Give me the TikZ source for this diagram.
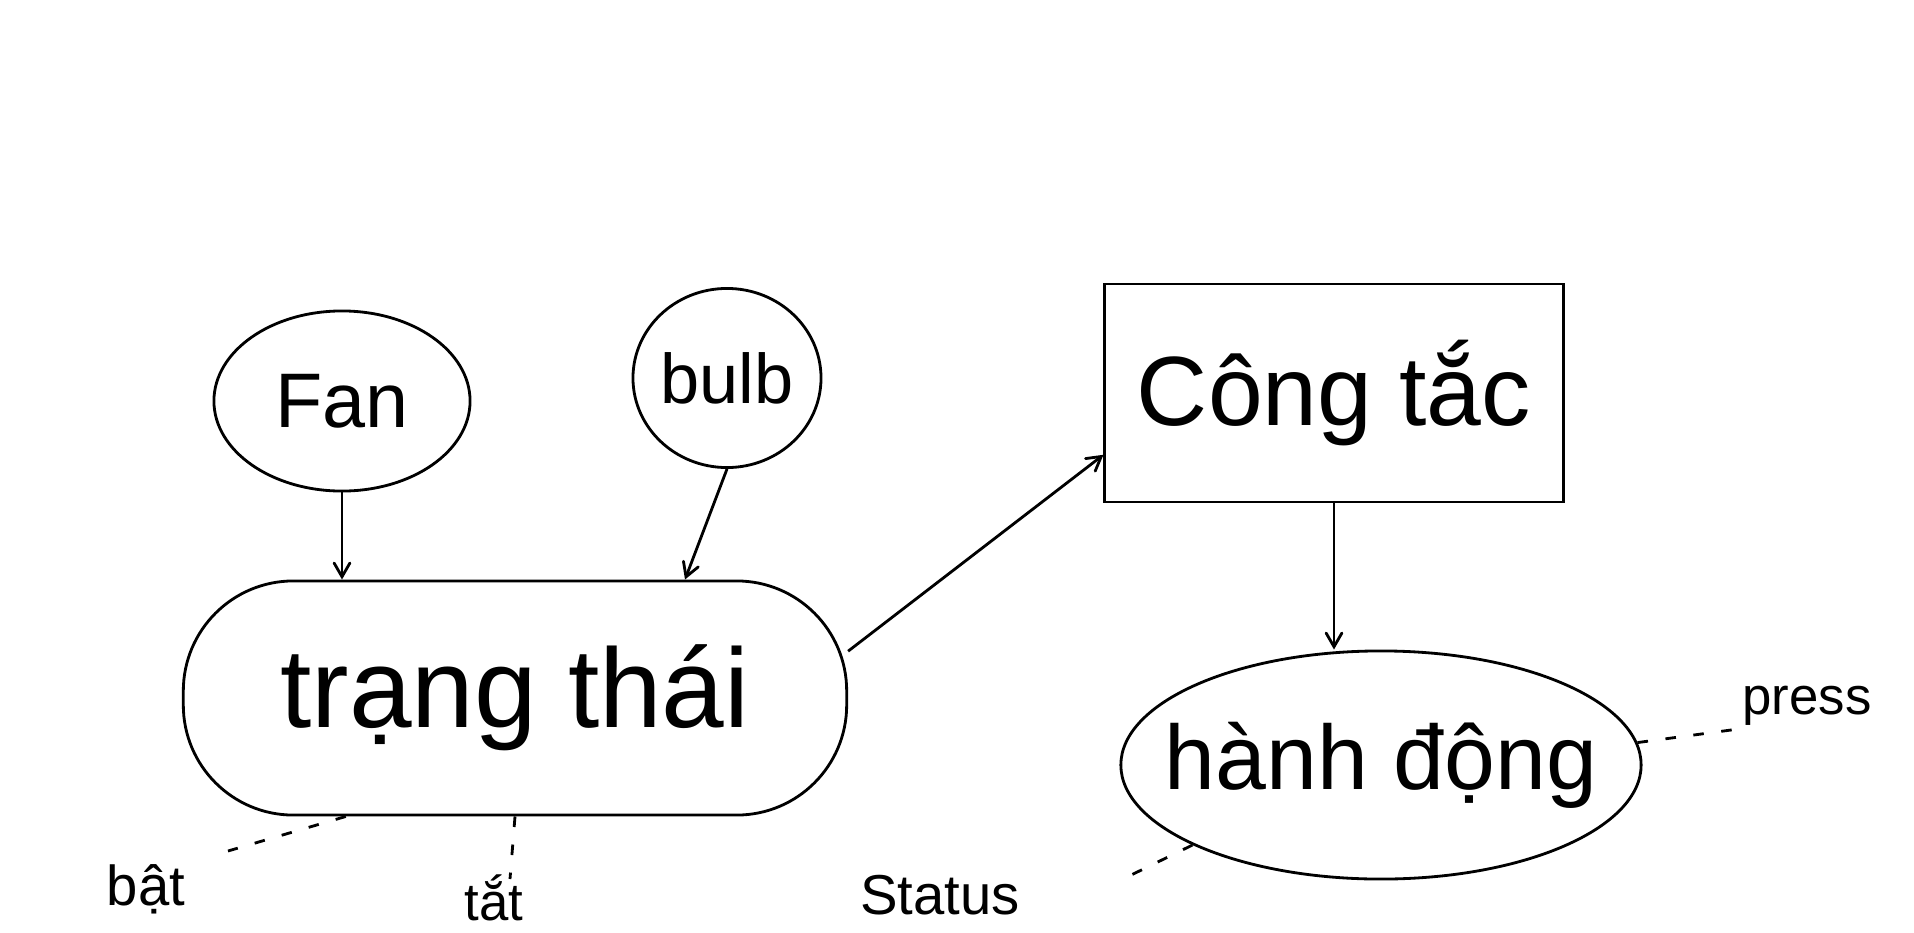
\documentclass[tikz,border=0pt]{standalone}
\usepackage{fontspec}
\setmainfont{Liberation Sans}
\usetikzlibrary{calc,positioning,arrows,shapes.geometric,shapes}
\tikzset{
>=angle 60,
bubble/.style={ ellipse, draw=black, thick, inner sep=0pt, text centered},
stategroup/.style={ rectangle, rounded corners=1.1cm, draw=black, thick, text centered},
switchbox/.style={ rectangle, draw=black, thick, text centered},
line/.style={draw, thick, ->},
dots/.style={draw, thick, dash pattern=on 3pt off 5pt},
tag/.style={ font=\fontsize{16}{19}\selectfont},
}
\begin{document}
\begin{tikzpicture}
[x=0.01cm, y=-0.01cm]
\useasboundingbox (0,0) rectangle (1914,933);

\node[bubble, minimum width=2.56cm, minimum height=1.8cm, font=\fontsize{22}{26}\selectfont] (fan) at (342,401) {Fan};
\node[bubble, minimum width=1.77cm, minimum height=1.79cm, font=\fontsize{20}{24}\selectfont] (bulb) at (727,378) {bulb};
\node[switchbox, minimum width=4.58cm, minimum height=2.18cm, font=\fontsize{28}{32}\selectfont] (switch) at (1334,393) {Công tắc};
\node[stategroup, minimum width=6.63cm, minimum height=2.34cm, font=\fontsize{32}{36}\selectfont] (state) at (515,698) {trạng thái};
\node[bubble, minimum width=5.2cm, minimum height=2.28cm,
  label={[font=\fontsize{26}{30}\selectfont]center:hành động}] (action) at (1381,765) {};

\node[tag] (on) at (146,889) {bật};
\node[tag, font=\fontsize{15}{18}\selectfont] (off) at (494,898) {tắt};
\node[tag] (status) at (940,895) {Status};
\node[tag, font=\fontsize{15}{18}\selectfont] (press) at (1807,706) {press};

\coordinate (onend) at (228,851);
\coordinate (offend) at (510,879);
\coordinate (statusend) at (1123,879);
\coordinate (pressend) at (1746,728);

\draw[line] (fan.south) -- (fan.south |- state.north);
\draw[line] (bulb.south) -- ($(state.north)+(170,0)$);
\draw[line] (state.8) -- (switch.195);
\draw[line] (switch.south) -- (switch.south |- action.north);

\draw[dots] (state.-145) -- (onend);
\draw[dots] (state.south) -- (offend);
\draw[dots] (action.203) -- (statusend);
\draw[dots] (action.5) -- (pressend);
\end{tikzpicture}
\end{document}
